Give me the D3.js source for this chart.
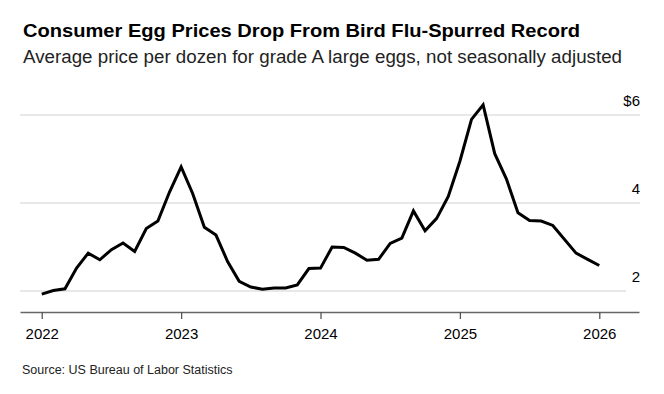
<!DOCTYPE html>
<html lang="en">
<head>
  <meta charset="UTF-8">
  <title>Consumer Egg Prices</title>
  <script src="https://cdn.jsdelivr.net/npm/d3@7/dist/d3.min.js"></script>
  <style>
    body { margin: 0; background: #fff; }
    text { font-family: "Liberation Sans", Arial, sans-serif; }
  </style>
</head>
<body>
  <div id="chart"></div>

  <script>
    // Monthly average price, grade A large eggs (Oct 2025 not published)
    var months = [
      "2022-01","2022-02","2022-03","2022-04","2022-05","2022-06","2022-07","2022-08","2022-09","2022-10","2022-11","2022-12",
      "2023-01","2023-02","2023-03","2023-04","2023-05","2023-06","2023-07","2023-08","2023-09","2023-10","2023-11","2023-12",
      "2024-01","2024-02","2024-03","2024-04","2024-05","2024-06","2024-07","2024-08","2024-09","2024-10","2024-11","2024-12",
      "2025-01","2025-02","2025-03","2025-04","2025-05","2025-06","2025-07","2025-08","2025-09","2025-11","2025-12",
      "2026-01"
    ];
    var prices = [
      1.93, 2.01, 2.05, 2.52, 2.86, 2.71, 2.94, 3.09, 2.90, 3.42, 3.59, 4.25,
      4.82, 4.21, 3.45, 3.27, 2.67, 2.22, 2.09, 2.04, 2.07, 2.07, 2.14, 2.51,
      2.52, 3.00, 2.99, 2.86, 2.70, 2.72, 3.08, 3.20, 3.82, 3.37, 3.65, 4.15,
      4.95, 5.90, 6.23, 5.12, 4.55, 3.78, 3.60, 3.59, 3.49, 2.86, 2.72,
      2.58
    ];
    var yearTicks = [2022, 2023, 2024, 2025, 2026];
    var priceTicks = [2, 4, 6];

    var width = 664, height = 394;

    var svg = d3.select("#chart")
      .append("svg")
      .attr("width", width)
      .attr("height", height);

    // month string -> fractional year
    var toYear = function (m) {
      var p = m.split("-");
      return +p[0] + (+p[1] - 1) / 12;
    };
    var data = months.map(function (m, i) { return { t: toYear(m), v: prices[i] }; });

    var x = d3.scaleLinear()
      .domain([2021.844, 2026.285])
      .range([20, 639]);

    var y = d3.scaleLinear()
      .domain([2, 6])
      .range([291, 115]);

    // Title and subtitle (stretched a little to the width of the original typeface)
    svg.append("text")
      .attr("x", 23).attr("y", 37)
      .attr("textLength", 557)
      .attr("lengthAdjust", "spacingAndGlyphs")
      .style("font-size", "18.5px")
      .style("font-weight", "bold")
      .style("fill", "#000")
      .text("Consumer Egg Prices Drop From Bird Flu-Spurred Record");

    svg.append("text")
      .attr("x", 23).attr("y", 63)
      .attr("textLength", 599)
      .attr("lengthAdjust", "spacingAndGlyphs")
      .style("font-size", "17.5px")
      .style("fill", "#222")
      .text("Average price per dozen for grade A large eggs, not seasonally adjusted");

    // Gridlines
    svg.append("g")
      .selectAll("line")
      .data(priceTicks)
      .enter()
      .append("line")
      .attr("x1", 20)
      .attr("x2", (d) => d === 2 ? 626 : 640)
      .attr("y1", (d) => y(d))
      .attr("y2", (d) => y(d))
      .attr("stroke", "#e1e1e1")
      .attr("stroke-width", 1.3);

    // Y labels, right aligned above the gridlines
    svg.append("g")
      .selectAll("text")
      .data(priceTicks)
      .enter()
      .append("text")
      .attr("x", 640)
      .attr("y", (d) => y(d) - 9)
      .attr("text-anchor", "end")
      .style("font-size", "15px")
      .style("fill", "#000")
      .text((d) => d === 6 ? "$" + d : d);

    // X axis
    var xAxis = svg.append("g")
      .attr("transform", "translate(0,312)")
      .call(d3.axisBottom(x)
        .tickValues(yearTicks)
        .tickFormat(d3.format("d"))
        .tickSize(7)
        .tickSizeOuter(0)
        .tickPadding(9));
    xAxis.select(".domain").attr("stroke", "#666").attr("stroke-width", 1.3);
    xAxis.selectAll(".tick line").attr("stroke", "#555").attr("stroke-width", 1.3);
    xAxis.selectAll(".tick text")
      .style("font-family", "'Liberation Sans', Arial, sans-serif")
      .style("font-size", "15px")
      .style("fill", "#000");

    // Price line
    var line = d3.line()
      .x((d) => x(d.t))
      .y((d) => y(d.v));

    svg.append("path")
      .datum(data)
      .attr("fill", "none")
      .attr("stroke", "#000")
      .attr("stroke-width", 3)
      .attr("stroke-linejoin", "miter")
      .attr("d", line);

    // Source
    svg.append("text")
      .attr("x", 22).attr("y", 374)
      .style("font-size", "12.5px")
      .style("fill", "#222")
      .text("Source: US Bureau of Labor Statistics");
  </script>
</body>
</html>
